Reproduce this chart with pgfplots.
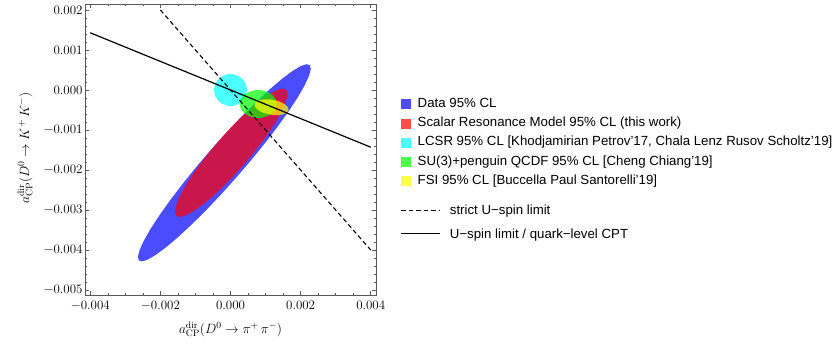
\RequirePackage{fix-cm}
\documentclass[border=0pt]{standalone}
\usepackage{pgfplots}
\pgfplotsset{compat=1.18}
\usepackage[no-math]{fontspec}
\setmainfont{Liberation Sans}
\definecolor{mblue}{rgb}{0,0,1}
\definecolor{mred}{rgb}{1,0,0}
\definecolor{mcyan}{rgb}{0,1,1}
\definecolor{mgreen}{rgb}{0,1,0}
\definecolor{myellow}{rgb}{1,1,0}
\begin{document}
\begin{tikzpicture}
\path[use as bounding box] (0,0) rectangle (837bp,347bp);
\pgfplotsset{
  common/.style={
    at={(85bp,52bp)}, anchor=south west,
    scale only axis, width=291bp, height=291bp,
    xmin=-4.15, xmax=4.15, ymin=-5.125, ymax=2.15,
  }
}
\begin{axis}[common,
  xtick={-4,-2,0,2,4},
  xticklabels={$-0.004$,$-0.002$,$0.000$,$0.002$,$0.004$},
  ytick={-5,-4,-3,-2,-1,0,1,2},
  yticklabels={$-0.005$,$-0.004$,$-0.003$,$-0.002$,$-0.001$,$0.000$,$0.001$,$0.002$},
  minor x tick num=3, minor y tick num=4,
  tick align=inside, tick pos=both,
  major tick length=4bp, minor tick length=2bp,
  axis line style={draw=black!65, line width=0.6bp},
  tick style={draw=black!65, line width=0.5bp},
  ticklabel style={font=\fontsize{13}{15}\selectfont},
  yticklabel style={xshift=1bp},
  xticklabel style={yshift=-3bp},
  label style={font=\fontsize{13.5}{16}\selectfont},
  xlabel={$a^{\mathrm{dir}}_{\mathrm{CP}}\bigl(D^0\to\pi^+\,\pi^-\bigr)$},
  ylabel={$a^{\mathrm{dir}}_{\mathrm{CP}}\bigl(D^0\to K^+\,K^-\bigr)$},
  xlabel style={at={(axis description cs:0.5,-0.1306)}, anchor=base},
  ylabel style={at={(axis description cs:-0.206,0.505)}, anchor=center},
  legend style={at={(axis description cs:1.085,0.676)}, anchor=north west,
    draw=none, fill=none, inner sep=0pt, outer sep=0pt,
    font=\fontsize{13.3}{15}\selectfont, row sep=7.3bp, column sep=7bp,
    nodes={inner sep=0pt, text height=9bp, text depth=3bp}},
  legend cell align=left,
  legend image code/.code={\fill[#1] (0bp,-5bp) rectangle (10bp,5bp);},
]
% Data 95% CL
\addplot[fill=mblue, fill opacity=0.7, draw=none] coordinates {
(2.265,0.620) (2.167,0.645) (1.997,0.594) (1.761,0.470) (1.466,0.277) (1.122,0.019)
(0.738,-0.293) (0.326,-0.653) (-0.100,-1.047) (-0.529,-1.466) (-0.948,-1.895) (-1.342,-2.321)
(-1.702,-2.733) (-2.014,-3.117) (-2.272,-3.461) (-2.465,-3.756) (-2.589,-3.992) (-2.640,-4.162)
(-2.615,-4.260) (-2.517,-4.285) (-2.347,-4.234) (-2.111,-4.110) (-1.816,-3.917) (-1.472,-3.659)
(-1.088,-3.347) (-0.676,-2.987) (-0.250,-2.593) (0.179,-2.174) (0.598,-1.745) (0.992,-1.319)
(1.352,-0.907) (1.664,-0.523) (1.922,-0.179) (2.115,0.116) (2.239,0.352) (2.290,0.522)
(2.265,0.620)};
\addlegendentry{Data 95\% CL}
% Scalar Resonance Model
\addplot[fill=mred, fill opacity=0.7, draw=none] coordinates {
(1.590,0.000) (1.509,0.033) (1.383,0.017) (1.217,-0.047) (1.013,-0.157) (0.779,-0.311)
(0.522,-0.502) (0.250,-0.726) (-0.029,-0.975) (-0.307,-1.243) (-0.575,-1.521) (-0.824,-1.800)
(-1.048,-2.072) (-1.240,-2.329) (-1.393,-2.563) (-1.504,-2.767) (-1.567,-2.933) (-1.583,-3.059)
(-1.550,-3.140) (-1.469,-3.173) (-1.343,-3.157) (-1.177,-3.094) (-0.973,-2.983) (-0.739,-2.830)
(-0.482,-2.638) (-0.210,-2.414) (0.069,-2.165) (0.347,-1.897) (0.615,-1.619) (0.864,-1.340)
(1.088,-1.068) (1.280,-0.812) (1.433,-0.577) (1.544,-0.374) (1.607,-0.207) (1.623,-0.081)
(1.590,0.000)};
\addlegendentry{Scalar Resonance Model 95\% CL (this work)}
% LCSR
\addplot[fill=mcyan, fill opacity=0.7, draw=none] coordinates {
(0.470,0) (0.442,0.137) (0.360,0.257) (0.235,0.346) (0.082,0.394) (-0.082,0.394)
(-0.235,0.346) (-0.360,0.257) (-0.442,0.137) (-0.470,0) (-0.442,-0.137) (-0.360,-0.257)
(-0.235,-0.346) (-0.082,-0.394) (0.082,-0.394) (0.235,-0.346) (0.360,-0.257) (0.442,-0.137)
(0.470,0)};
\addlegendentry{LCSR 95\% CL [Khodjamirian Petrov'17, Chala Lenz Rusov Scholtz'19]}
% SU(3)+penguin QCDF
\addplot[fill=mgreen, fill opacity=0.7, draw=none] coordinates {
(1.320,-0.350) (1.288,-0.230) (1.196,-0.125) (1.055,-0.047) (0.882,-0.005) (0.698,-0.005)
(0.525,-0.047) (0.384,-0.125) (0.292,-0.230) (0.260,-0.350) (0.292,-0.470) (0.384,-0.575)
(0.525,-0.653) (0.698,-0.695) (0.882,-0.695) (1.055,-0.653) (1.196,-0.575) (1.288,-0.470)
(1.320,-0.350)};
\addlegendentry{SU(3)+penguin QCDF 95\% CL [Cheng Chiang'19]}
% FSI
\addplot[fill=myellow, fill opacity=0.7, draw=none] coordinates {
(1.655,-0.498) (1.634,-0.430) (1.558,-0.361) (1.436,-0.301) (1.280,-0.257) (1.112,-0.233)
(0.950,-0.233) (0.816,-0.257) (0.724,-0.302) (0.685,-0.362) (0.706,-0.430) (0.782,-0.499)
(0.904,-0.559) (1.060,-0.603) (1.228,-0.627) (1.390,-0.627) (1.524,-0.603) (1.616,-0.558)
(1.655,-0.498)};
\addlegendentry{FSI 95\% CL [Buccella Paul Santorelli'19]}
\end{axis}
\begin{axis}[common, hide axis,
  legend style={at={(axis description cs:1.085,0.306)}, anchor=north west,
    draw=none, fill=none, inner sep=0pt, outer sep=0pt,
    font=\fontsize{13.3}{15}\selectfont, row sep=11.3bp, column sep=9bp,
    nodes={inner sep=0pt, text height=9bp, text depth=3bp}},
  legend cell align=left,
  legend image code/.code={\draw[#1] (0bp,1.5bp) -- (39bp,1.5bp);},
]
\addplot[black, line width=1.1bp, dash pattern=on 4.5bp off 3bp] coordinates {(-2,2) (4,-4)};
\addlegendentry{strict U−spin limit}
\addplot[black, line width=1.2bp] coordinates {(-4,1.43) (4,-1.43)};
\addlegendentry{U−spin limit / quark−level CPT}
\end{axis}
\end{tikzpicture}
\end{document}
